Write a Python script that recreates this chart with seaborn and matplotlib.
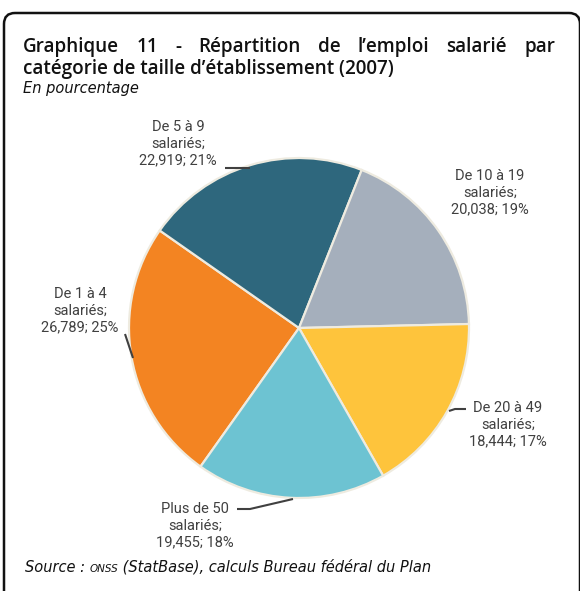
import numpy as np
import pandas as pd
import seaborn as sns
import matplotlib.pyplot as plt
from matplotlib.patches import FancyBboxPatch
from matplotlib.transforms import IdentityTransform

categories = ["De 1 à 4\nsalariés", "De 5 à 9\nsalariés", "De 10 à 19\nsalariés",
              "De 20 à 49\nsalariés", "Plus de 50\nsalariés"]
values = [26789, 22919, 20038, 18444, 19455]
percents = [25, 21, 19, 17, 18]
colors = ["#F38422", "#2E677D", "#A5AFBC", "#FEC43C", "#6DC3D2"]

df = pd.DataFrame({"cat": categories, "val": values, "pct": percents})

sns.set_theme(style="white")
plt.rcParams["font.family"] = ["Open Sans", "DejaVu Sans"]

W, H = 580, 591
fig = plt.figure(figsize=(W / 100, H / 100), dpi=100)
ax = fig.add_axes([0, 0, 1, 1])
ax.axis("off")

# pie centre / radius in pixels
cx, cy, r = 299, 328, 170


def px(x, y):
    return (x - cx) / r, (cy - y) / r


ax.pie(df["val"], colors=colors, startangle=-125.4, counterclock=False,
       radius=1, center=(0, 0), frame=False,
       wedgeprops=dict(edgecolor="#EEEBE0", linewidth=1.6))
ax.set_xlim(-cx / r, (W - cx) / r)
ax.set_ylim((cy - H) / r, cy / r)
ax.set_aspect("auto")

lab_font = ["Liberation Sans Narrow", "Roboto", "DejaVu Sans"]
lab_color = "#404040"

# label text centres (pixels)
label_pos = {0: (80, 311), 1: (178, 144), 2: (490, 193), 3: (508, 425), 4: (195, 526)}
for i, row in df.iterrows():
    txt = f"{row['cat']};\n{row['val'] / 1000:,.3f}; {row['pct']}%".replace(".", ",")
    x, y = px(*label_pos[i])
    ax.text(x, y, txt, ha="center", va="center", fontsize=10.5, color=lab_color,
            family=lab_font, linespacing=1.25)

# leader lines
leaders = [
    [(125, 334), (133, 358)],
    [(225, 168), (250, 168)],
    [(449, 411), (455, 409), (466, 409)],
    [(237, 509), (250, 509), (293, 499)],
]
for pts in leaders:
    xs, ys = zip(*[px(*p) for p in pts])
    ax.plot(xs, ys, color=lab_color, lw=1.5, solid_capstyle="butt")

fig.canvas.draw()
renderer = fig.canvas.get_renderer()


def justified(words, x0, x1, y, **kw):
    arts = [fig.text(0, 1 - y / H, w, va="center", ha="left", **kw) for w in words]
    widths = [a.get_window_extent(renderer).width for a in arts]
    gap = (x1 - x0 - sum(widths)) / (len(words) - 1)
    x = x0
    for a, w in zip(arts, widths):
        a.set_x(x / W)
        x += w + gap


title_kw = dict(fontsize=13.6, fontweight="semibold", color="#111111")
justified("Graphique 11 - Répartition de l’emploi salarié par".split(), 23, 555, 47, **title_kw)
fig.text(23 / W, 1 - 69 / H, "catégorie de taille d’établissement (2007)",
         va="center", ha="left", **title_kw)
fig.text(23 / W, 1 - 89 / H, "En pourcentage", fontsize=10.5, style="italic",
         family="DejaVu Sans", va="center", ha="left", color="#111111")

# source line
src_y = 1 - 572 / H
src_kw = dict(fontsize=10.5, style="italic", family="DejaVu Sans",
              va="baseline", ha="left", color="#111111")
t1 = fig.text(25 / W, src_y, "Source : ", **src_kw)
bb = t1.get_window_extent(renderer)
t2 = fig.text(bb.x1 / W, src_y, "ONSS", **{**src_kw, "fontsize": 7.5})
bb2 = t2.get_window_extent(renderer)
fig.text(bb2.x1 / W, src_y, " (StatBase), calculs Bureau fédéral du Plan", **src_kw)

# rounded frame
frame = FancyBboxPatch((4, -30), 576, H - 13 + 30,
                       boxstyle="round,pad=0,rounding_size=11",
                       transform=IdentityTransform(), fill=False,
                       edgecolor="#111111", linewidth=1.8)
fig.patches.append(frame)

fig.savefig("out.png", dpi=100)
